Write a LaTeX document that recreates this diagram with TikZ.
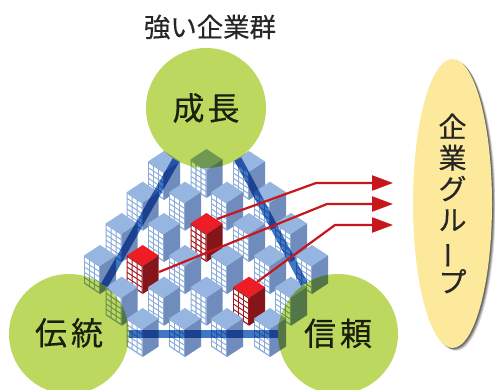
\documentclass[tikz,border=0pt]{standalone}
\usepackage{fontspec}
\setmainfont[FakeBold=0.35]{Noto Sans CJK JP}
\usetikzlibrary{arrows.meta,shapes.geometric}
\definecolor{bTop}{HTML}{96B5E0}
\definecolor{bLeft}{HTML}{8AABDA}
\definecolor{bRight}{HTML}{6F8CBD}
\definecolor{rTop}{HTML}{EE1C25}
\definecolor{rLeft}{HTML}{A5161C}
\definecolor{rRight}{HTML}{86151A}
\definecolor{leaf}{HTML}{BDD85F}
\definecolor{band}{HTML}{3F77C2}
\definecolor{link}{HTML}{C8161D}
\definecolor{pill}{HTML}{FDE99C}
\newcommand{\bldg}[5]{%
  \begin{scope}[shift={(#1,#2)}]
    \fill[#3] (0,0) -- (16,10.5) -- (0,21) -- (-16,10.5) -- cycle;
    \fill[#4] (-16,10.5) -- (0,21) -- (0,49) -- (-16,38.5) -- cycle;
    \fill[#5] (16,10.5) -- (0,21) -- (0,49) -- (16,38.5) -- cycle;
    \foreach \i in {0,1,2}{\foreach \j in {0,1,2,3,4}{
      \pgfmathsetmacro\wx{-15+5*\i}
      \pgfmathsetmacro\wy{10.5+(\wx+16)*0.656+1.4+\j*5.3}
      \fill[white] (\wx,\wy) -- ++(3.9,2.56) -- ++(0,3.8) -- ++(-3.9,-2.56) -- cycle;
    }}
  \end{scope}}
\newcommand{\blue}[2]{\bldg{#1}{#2}{bTop}{bLeft}{bRight}}
\newcommand{\redb}[2]{\bldg{#1}{#2}{rTop}{rLeft}{rRight}}
\tikzset{
  hub/.style={circle,fill=leaf,minimum size=120pt,inner sep=0pt,blend mode=multiply,
    font=\fontsize{32}{32}\selectfont,text=black!85},
  bandline/.style={draw=band,line width=7.5pt,blend mode=multiply},
  linkline/.style={draw=link,line width=2.2pt,-{Triangle[length=21pt,width=15pt]}},
  groupshape/.style={ellipse,minimum width=79pt,minimum height=289pt,inner sep=0pt},
}
\begin{document}
\begin{tikzpicture}[x=1pt,y=-1pt]
\useasboundingbox (0,0) rectangle (495,390);
% buildings, back to front
\blue{164}{151}\blue{206.5}{149}\blue{249}{151}
\blue{142.7}{181.7}\blue{185}{181.7}\blue{227}{181.7}\blue{270}{181.7}
\blue{121.7}{213}\blue{164}{213}\redb{206.5}{213}\blue{249}{213}\blue{291}{213}
\blue{100}{245}\redb{142.7}{245}\blue{185}{245}\blue{227}{245}\blue{270}{245}\blue{312}{245}
\blue{121.7}{276.7}\blue{164}{276.7}\blue{206.5}{276.7}\redb{249}{276.7}\blue{291}{276.7}
\blue{142.7}{308}\blue{185}{308}\blue{227}{308}\blue{270}{308}
% circles
\node[hub] (top) at (206,108) {成\hspace{3pt}長};
\node[hub] (left) at (69,334) {\raisebox{5pt}{伝\hspace{4pt}統}};
\node[hub] (right) at (338,334) {\raisebox{4pt}{信\hspace{4pt}頼}};
% bands
\path[bandline] (top.240) -- (left.54);
\path[bandline] (top.302) -- (right.124);
\path[bandline] (left) -- (right);
% group ellipse with soft shadow
\foreach \d/\o in {3.6/0.12,2.8/0.16,2/0.22,1.2/0.3}{
  \fill[black,opacity=\o] (452.5+\d,203.5+\d*0.8) ellipse [x radius=39.5,y radius=144.5];
}
\node[groupshape,fill=pill,align=center,font=\fontsize{28}{31}\selectfont,text=black!85] (group) at (452.5,203.5)
  {企\\業\\グ\\ル\\\smash{\rotatebox[origin=c]{90}{ー}}\\プ};
% title
\node[font=\fontsize{26.4}{26.4}\selectfont,text=black!85,inner sep=0pt] (title) at (210,27) {強い企業群};
% links
\coordinate (redA) at (217,219);
\coordinate (redB) at (159,272);
\coordinate (redC) at (257,282);
\coordinate (bendA) at (316,183);
\coordinate (bendB) at (327,204);
\coordinate (bendC) at (335,225);
\coordinate (endA) at (393,183);
\coordinate (endB) at (393,204);
\coordinate (endC) at (393,225);
\path[linkline] (redA) -- (bendA) -- (endA);
\path[linkline] (redB) -- (bendB) -- (endB);
\path[linkline] (redC) -- (bendC) -- (endC);
\end{tikzpicture}
\end{document}
